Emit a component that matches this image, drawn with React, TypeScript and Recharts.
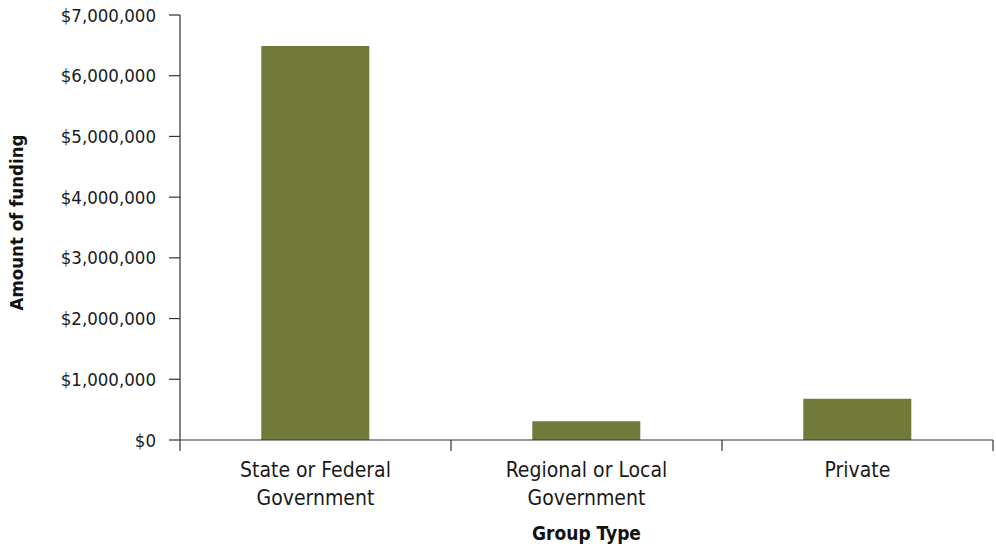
import { BarChart, Bar, XAxis, YAxis } from 'recharts'

const categories = ['State or Federal Government', 'Regional or Local Government', 'Private']
const tickLines = [['State or Federal', 'Government'], ['Regional or Local', 'Government'], ['Private']]
const funding = [6490000, 310000, 680000]
const yTicks = [0, 1000000, 2000000, 3000000, 4000000, 5000000, 6000000, 7000000]

const data = categories.map((name, i) => ({ name, funding: funding[i] }))

const FONT = '"DejaVu Sans Condensed", "Liberation Sans", sans-serif'
const AXIS = '#333'

const money = (v: number) => '$' + v.toLocaleString('en-US')

function CategoryTick(props: any) {
  const { x, y, payload, index } = props
  const half = payload?.offset ?? 135.5
  const top = y - 13
  const lines = tickLines[index] ?? [String(payload.value)]
  return (
    <g>
      <line x1={x - half} y1={top} x2={x - half} y2={top + 11} stroke={AXIS} strokeWidth={1.2} />
      {index === categories.length - 1 && (
        <line x1={x + half} y1={top} x2={x + half} y2={top + 11} stroke={AXIS} strokeWidth={1.2} />
      )}
      {lines.map((l: string, i: number) => (
        <text key={i} x={x} y={y + 24 + i * 28} textAnchor="middle" fill="#1a1a1a" fontSize={21} fontFamily={FONT}>
          {l}
        </text>
      ))}
    </g>
  )
}

export default function App() {
  return (
    <div style={{ position: 'absolute', left: 0, top: 0, background: '#fff' }}>
      <BarChart
        width={996}
        height={550}
        data={data}
        margin={{ top: 15, right: 3, left: 0, bottom: 0 }}
        barCategoryGap="30%"
      >
        <XAxis
          dataKey="name"
          height={110}
          tickLine={false}
          tickSize={11}
          tickMargin={2}
          interval={0}
          axisLine={{ stroke: AXIS, strokeWidth: 1.2 }}
          tick={<CategoryTick />}
          label={{
            content: (p: any) => {
              const vb = p.viewBox
              return (
                <text x={vb.x + vb.width / 2} y={vb.y + vb.height - 10} textAnchor="middle" fill="#111" fontSize={19} fontWeight="bold" fontFamily={FONT}>
                  Group Type
                </text>
              )
            },
          }}
        />
        <YAxis
          width={180}
          domain={[0, 7000000]}
          ticks={yTicks}
          interval={0}
          tickFormatter={money}
          tickSize={11}
          tickMargin={13}
          tickLine={{ stroke: AXIS, strokeWidth: 1.2 }}
          axisLine={{ stroke: AXIS, strokeWidth: 1.2 }}
          tick={{ fill: '#1a1a1a', fontSize: 18.5, fontFamily: FONT }}
          label={{
            content: (p: any) => {
              const vb = p.viewBox
              const cy = vb.y + vb.height / 2 - 5
              return (
                <text x={23} y={cy} transform={`rotate(-90, 23, ${cy})`} textAnchor="middle" fill="#111" fontSize={18.5} fontWeight="bold" fontFamily={FONT}>
                  Amount of funding
                </text>
              )
            },
          }}
        />
        <Bar dataKey="funding" fill="#717a38" isAnimationActive={false} />
      </BarChart>
    </div>
  )
}
